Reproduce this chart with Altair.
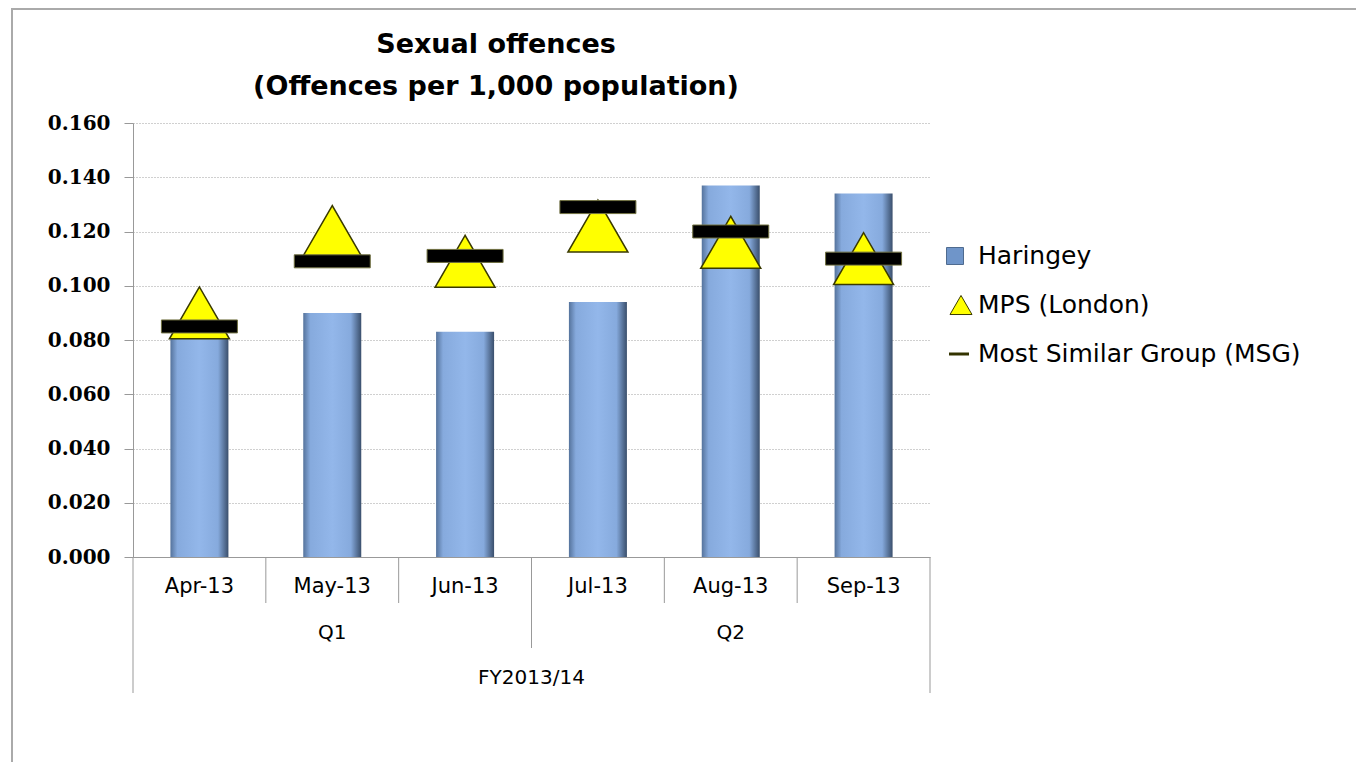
import altair as alt
import pandas as pd

months = ["Apr-13", "May-13", "Jun-13", "Jul-13", "Aug-13", "Sep-13"]
haringey = [0.081, 0.090, 0.083, 0.094, 0.137, 0.134]
mps = [0.090, 0.120, 0.109, 0.122, 0.116, 0.110]
msg = [0.085, 0.109, 0.111, 0.129, 0.120, 0.110]
quarters = ["Q1", "Q2"]
year = ["FY2013/14"]
y_ticks = [0.0, 0.02, 0.04, 0.06, 0.08, 0.10, 0.12, 0.14, 0.16]
legend_labels = ["Haringey", "MPS (London)", "Most Similar Group (MSG)"]

W, H = 797, 434
FONT = "DejaVu Sans"

df = pd.DataFrame({
    "pos": [i + 0.5 for i in range(len(months))],
    "month": months,
    "Haringey": haringey,
    "MPS": mps,
    "MSG": msg,
})

xs = alt.Scale(domain=[0, len(months)], nice=False, zero=False, padding=0)
ys = alt.Scale(domain=[0, 0.16], nice=False, padding=0)

grad = alt.Gradient(
    gradient="linear",
    stops=[
        alt.GradientStop(color="#55739c", offset=0),
        alt.GradientStop(color="#86aadd", offset=0.12),
        alt.GradientStop(color="#93b7ea", offset=0.5),
        alt.GradientStop(color="#86aadd", offset=0.82),
        alt.GradientStop(color="#3a4f6c", offset=1),
    ],
    x1=0, x2=1, y1=0, y2=0,
)

base = alt.Chart(df)

xaxis = alt.Axis(labels=False, ticks=False, title=None, grid=False,
                 domainColor="#999999", values=[0])
yaxis = alt.Axis(values=y_ticks, format=".3f", title=None,
                 labelFont="DejaVu Serif", labelFontWeight="bold",
                 labelFontSize=20, labelColor="#000000",
                 labelPadding=14, tickSize=9, tickColor="#999999",
                 domainColor="#999999", grid=True,
                 gridColor="#a0a0a0", gridDash=[1, 2])

bars = base.mark_bar(size=58, color=grad).encode(
    x=alt.X("pos:Q", scale=xs, axis=xaxis),
    y=alt.Y("Haringey:Q", scale=ys, axis=yaxis),
)

tri = base.mark_point(shape="triangle-up", filled=True, fill="#ffff00",
                      stroke="#3a3a00", strokeWidth=1.5, size=3600,
                      opacity=1).encode(
    x=alt.X("pos:Q", scale=xs, axis=xaxis),
    y=alt.Y("MPS:Q", scale=ys, axis=yaxis))

msgm = base.mark_point(shape="M-1,-0.171H1V0.171H-1Z", filled=True,
                       fill="#000000", stroke="#707040", strokeWidth=1,
                       size=5776, opacity=1).encode(
    x=alt.X("pos:Q", scale=xs, axis=xaxis),
    y=alt.Y("MSG:Q", scale=ys, axis=yaxis))

# hierarchical category axis
mlab = base.mark_text(font=FONT, fontSize=21, color="#000000",
                      baseline="middle").encode(
    x=alt.X("pos:Q", scale=xs, axis=xaxis), y=alt.value(464), text="month:N")

sep_m = alt.Chart(pd.DataFrame({"p": [1, 2, 4, 5]})).mark_rule(
    color="#999999", strokeWidth=1).encode(
    x=alt.X("p:Q", scale=xs, axis=xaxis), y=alt.value(H), y2=alt.value(480))
sep_q = alt.Chart(pd.DataFrame({"p": [3]})).mark_rule(
    color="#999999", strokeWidth=1).encode(
    x=alt.X("p:Q", scale=xs, axis=xaxis), y=alt.value(H), y2=alt.value(525))
sep_o = alt.Chart(pd.DataFrame({"p": [0, 6]})).mark_rule(
    color="#999999", strokeWidth=1).encode(
    x=alt.X("p:Q", scale=xs, axis=xaxis), y=alt.value(H), y2=alt.value(570))

qlab = alt.Chart(pd.DataFrame({"p": [1.5, 4.5], "q": quarters})).mark_text(
    font=FONT, fontSize=20, color="#000000", baseline="middle").encode(
    x=alt.X("p:Q", scale=xs, axis=xaxis), y=alt.value(510), text="q:N")
ylab = alt.Chart(pd.DataFrame({"p": [3.0], "q": year})).mark_text(
    font=FONT, fontSize=20, color="#000000", baseline="middle").encode(
    x=alt.X("p:Q", scale=xs, axis=xaxis), y=alt.value(555), text="q:N")

# title
t1 = alt.Chart(pd.DataFrame({"t": ["Sexual offences"]})).mark_text(
    font=FONT, fontSize=27, fontWeight="bold", color="#000000",
    baseline="middle").encode(x=alt.value(363), y=alt.value(-78), text="t:N")
t2 = alt.Chart(pd.DataFrame({"t": ["(Offences per 1,000 population)"]})).mark_text(
    font=FONT, fontSize=27, fontWeight="bold", color="#000000",
    baseline="middle").encode(x=alt.value(363), y=alt.value(-36), text="t:N")

# legend
one = pd.DataFrame({"a": [1]})
lg1 = alt.Chart(one).mark_point(
    shape="square", filled=True, fill="#6f95c9", stroke="#4f6b8f",
    strokeWidth=1, size=289, opacity=1).encode(x=alt.value(822), y=alt.value(133))
lg2 = alt.Chart(one).mark_point(
    shape="triangle-up", filled=True, fill="#ffff00", stroke="#3a3a00",
    strokeWidth=1, size=484, opacity=1).encode(x=alt.value(828), y=alt.value(182))
lg3 = alt.Chart(one).mark_rule(
    color="#333300", strokeWidth=3).encode(
    x=alt.value(816), x2=alt.value(836), y=alt.value(231))
legend_texts = [
    alt.Chart(pd.DataFrame({"t": [lab]})).mark_text(
        font=FONT, fontSize=25, color="#000000", align="left",
        baseline="middle").encode(x=alt.value(845), y=alt.value(yy), text="t:N")
    for lab, yy in zip(legend_labels, [133, 182, 231])
]

# outer frame (top and left edges)
fr_top = alt.Chart(one).mark_rule(
    color="#aaaaaa", strokeWidth=2).encode(
    x=alt.value(-122), x2=alt.value(1231), y=alt.value(-114))
fr_left = alt.Chart(one).mark_rule(
    color="#aaaaaa", strokeWidth=2).encode(
    x=alt.value(-121), y=alt.value(-114), y2=alt.value(650))

chart = alt.layer(
    fr_top, fr_left, bars, tri, msgm, mlab, sep_m, sep_q, sep_o, qlab, ylab,
    t1, t2, lg1, lg2, lg3, *legend_texts,
).properties(
    width=W, height=H,
    background="#ffffff",
    autosize=alt.AutoSizeParams(type="none"),
    padding={"left": 125, "top": 115, "right": 426, "bottom": 205},
).configure_view(strokeWidth=0, stroke="transparent"
).configure_axisX(grid=False)

chart.save("out.html", embed_options={"renderer": "svg", "actions": False})
